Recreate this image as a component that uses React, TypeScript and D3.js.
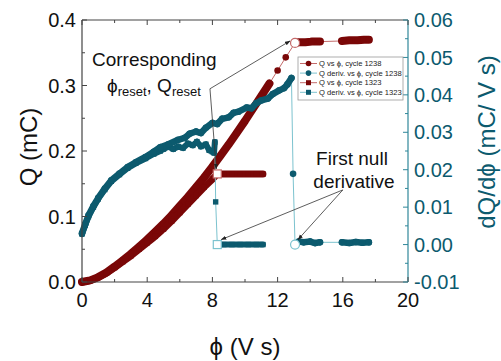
import React from "react";
import * as d3 from "d3";

// ---- data ----
const phiTicks = [0, 4, 8, 12, 16, 20];
const qTicks = [0, 0.1, 0.2, 0.3, 0.4];
const dTicks = [-0.01, 0, 0.01, 0.02, 0.03, 0.04, 0.05, 0.06];

// Q vs phi, cycle 1238
const q1238: [number, number][] = [
  [0, 0], [0.5, 0.0025], [1, 0.0075], [1.5, 0.0145], [2, 0.0235], [2.5, 0.033],
  [3, 0.043], [3.5, 0.054], [4, 0.065], [4.5, 0.077], [5, 0.089], [5.5, 0.102],
  [6, 0.116], [6.5, 0.13], [7, 0.145], [7.5, 0.16], [8, 0.176], [8.5, 0.193],
  [9, 0.21], [9.5, 0.228], [10, 0.246], [10.5, 0.265], [11, 0.284], [11.5, 0.303],
  [12, 0.323], [12.5, 0.343], [13.07, 0.365],
  [13.3, 0.366], [13.7, 0.366], [14.1, 0.367], [14.6, 0.367],
  [15.95, 0.368], [16.4, 0.369], [16.9, 0.369], [17.3, 0.37], [17.6, 0.37],
];
// dQ/dphi, cycle 1238
const d1238: [number, number][] = [
  [0, 0.003], [0.2, 0.0055], [0.4, 0.0078], [0.7, 0.0103], [1, 0.0125], [1.4, 0.015],
  [1.8, 0.0172], [2.3, 0.019], [2.8, 0.0207], [3.3, 0.022], [3.9, 0.0234], [4.4, 0.0248],
  [4.8, 0.026], [5.3, 0.0268], [5.9, 0.028], [6.3, 0.0285], [6.6, 0.0296], [7.0, 0.0302],
  [7.3, 0.0298], [7.6, 0.0312], [8.0, 0.0325], [8.3, 0.0322], [8.6, 0.0336], [9.0, 0.034],
  [9.3, 0.0352], [9.6, 0.0355], [10.1, 0.0366], [10.4, 0.0364], [10.7, 0.0378], [11.0, 0.0385],
  [11.4, 0.039], [11.7, 0.0402], [12.1, 0.0412], [12.4, 0.0418], [12.6, 0.0428],
  [12.85, 0.0445], [12.95, 0.0189], [13.07, 0.0],
  [13.3, 0.0008], [13.6, 0.0006], [14.0, 0.0008], [14.3, 0.0004], [14.6, 0.0006],
  [15.95, 0.0006], [16.4, 0.0004], [16.8, 0.0007], [17.2, 0.0005], [17.6, 0.0006],
];
// Q vs phi, cycle 1323
const q1323: [number, number][] = [
  [0, 0], [0.5, 0.0022], [1, 0.007], [1.5, 0.0135], [2, 0.022], [2.5, 0.031],
  [3, 0.04], [3.5, 0.05], [4, 0.06], [4.5, 0.07], [5, 0.081], [5.5, 0.093],
  [6, 0.106], [6.5, 0.119], [7, 0.132], [7.5, 0.145], [8, 0.157], [8.3, 0.165],
  [8.7, 0.165], [9.2, 0.165], [9.7, 0.165], [10.2, 0.165], [10.7, 0.165], [11.1, 0.165],
];
// dQ/dphi, cycle 1323
const d1323: [number, number][] = [
  [0, 0.0028], [0.2, 0.0052], [0.4, 0.0075], [0.7, 0.01], [1, 0.0122], [1.4, 0.0147],
  [1.8, 0.0169], [2.3, 0.0187], [2.8, 0.0204], [3.3, 0.0217], [3.9, 0.023], [4.4, 0.0242],
  [4.8, 0.025], [5.0, 0.0255], [5.3, 0.0262], [5.6, 0.0255], [5.9, 0.0262], [6.2, 0.0258],
  [6.5, 0.027], [6.8, 0.0265], [7.05, 0.0275], [7.3, 0.0262], [7.6, 0.0268], [7.8, 0.0252],
  [8.0, 0.0248], [8.1, 0.0245], [8.15, 0.0274], [8.2, 0.0114], [8.3, 0.0],
  [8.7, 0.0], [9.2, 0.0], [9.7, 0.0], [10.2, 0.0], [10.7, 0.0], [11.1, 0.0],
];
// reset points (open markers)
const resetQ1238: [number, number] = [13.07, 0.365];
const resetD1238: [number, number] = [13.07, 0.0];
const resetQ1323: [number, number] = [8.3, 0.165];
const resetD1323: [number, number] = [8.3, 0.0];

const legendLabels = [
  "Q vs ϕ, cycle 1238",
  "Q deriv. vs ϕ, cycle 1238",
  "Q vs ϕ, cycle 1323",
  "Q deriv. vs ϕ, cycle 1323",
];

// ---- styles ----
const RED = "#7a0707";
const RED_LIGHT = "#c46a6a";
const TEAL = "#0c5a6e";
const TEAL_LIGHT = "#7cc3cf";
const TEAL_AXIS = "#2f8799";
const AXIS = "#444";
const FONT = "Liberation Sans, Arial, sans-serif";

const W = 501, H = 361;
const x = d3.scaleLinear().domain([0, 20]).range([82, 408]);
const yQ = d3.scaleLinear().domain([0, 0.4]).range([282, 20]);
const yD = d3.scaleLinear().domain([-0.01, 0.06]).range([282, 20]);

type Pt = [number, number];

function Series({ data, y, color, light, shape, band }: {
  data: Pt[]; y: d3.ScaleLinear<number, number>; color: string; light: string; shape: "circle" | "square"; band: number;
}) {
  const px = data.map(([a, b]) => [x(a), y(b)] as [number, number]);
  const thin = d3.line()(px) || "";
  const thick: string[] = [];
  for (let i = 1; i < px.length; i++) {
    const dx = px[i][0] - px[i - 1][0], dy = px[i][1] - px[i - 1][1];
    if (Math.hypot(dx, dy) < 15) thick.push(`M${px[i - 1][0]},${px[i - 1][1]}L${px[i][0]},${px[i][1]}`);
  }
  return (
    <g>
      <path d={thin} fill="none" stroke={light} strokeWidth={1} />
      <path d={thick.join("")} fill="none" stroke={color} strokeWidth={band} strokeLinecap="round" strokeLinejoin="round" />
      {px.map(([a, b], i) =>
        shape === "circle" ? (
          <circle key={i} cx={a} cy={b} r={3.3} fill={color} />
        ) : (
          <rect key={i} x={a - 2.7} y={b - 2.7} width={5.4} height={5.4} fill={color} />
        )
      )}
    </g>
  );
}

export default function App() {
  const minorPhi = d3.range(0, 20.001, 2).filter((v) => !phiTicks.includes(v));
  const minorQ = d3.range(0.05, 0.4, 0.1);
  const minorD = d3.range(-0.005, 0.06, 0.01);

  const legX = 298, legY = 57, legW = 105, legH = 43;
  const legRows = [
    { c: RED, l: RED_LIGHT, s: "circle" },
    { c: TEAL, l: TEAL_LIGHT, s: "circle" },
    { c: RED, l: RED_LIGHT, s: "square" },
    { c: TEAL, l: TEAL_LIGHT, s: "square" },
  ];

  // annotation anchors in data space
  const a1: Pt = [x(7.85), yQ(0.295)];
  const a2: Pt = [x(16.0), yD(0.0146)];

  return (
    <svg width={W} height={H} style={{ position: "absolute", left: 0, top: 0, background: "#fff" }} fontFamily={FONT}>
      <defs>
        <marker id="arr" viewBox="0 0 10 10" refX={9} refY={5} markerWidth={7} markerHeight={7} orient="auto-start-reverse">
          <path d="M0,1.5 L10,5 L0,8.5 z" fill="#222" />
        </marker>
      </defs>
      <rect width={W} height={H} fill="#fff" />

      {/* series */}
      <Series data={q1238} y={yQ} color={RED} light={RED_LIGHT} shape="circle" band={8} />
      <Series data={q1323} y={yQ} color={RED} light={RED_LIGHT} shape="square" band={7} />
      <Series data={d1323} y={yD} color={TEAL} light={TEAL_LIGHT} shape="square" band={6} />
      <Series data={d1238} y={yD} color={TEAL} light={TEAL_LIGHT} shape="circle" band={6.5} />

      {/* reset markers */}
      <circle cx={x(resetQ1238[0])} cy={yQ(resetQ1238[1])} r={4.5} fill="#fff" stroke={RED_LIGHT} strokeWidth={1.2} />
      <circle cx={x(resetD1238[0])} cy={yD(resetD1238[1])} r={4.5} fill="#fff" stroke={TEAL_LIGHT} strokeWidth={1.2} />
      <rect x={x(resetQ1323[0]) - 4} y={yQ(resetQ1323[1]) - 4} width={8} height={8} fill="#fff" stroke={RED_LIGHT} strokeWidth={1.2} />
      <rect x={x(resetD1323[0]) - 4} y={yD(resetD1323[1]) - 4} width={8} height={8} fill="#fff" stroke={TEAL_LIGHT} strokeWidth={1.2} />

      {/* frame & ticks */}
      <line x1={82} x2={408} y1={282} y2={282} stroke={AXIS} strokeWidth={1.2} />
      <line x1={82} x2={408} y1={20} y2={20} stroke={AXIS} strokeWidth={1.2} />
      <line x1={82} x2={82} y1={20} y2={282} stroke={AXIS} strokeWidth={1.2} />
      <line x1={408} x2={408} y1={20} y2={282} stroke={TEAL_AXIS} strokeWidth={1.2} />
      {phiTicks.map((v) => (
        <g key={"xt" + v}>
          <line x1={x(v)} x2={x(v)} y1={282} y2={277} stroke={AXIS} />
          <line x1={x(v)} x2={x(v)} y1={20} y2={25} stroke={AXIS} />
          <text x={x(v)} y={307} textAnchor="middle" fontSize={20} fill="#111">{v}</text>
        </g>
      ))}
      {minorPhi.map((v) => (
        <g key={"xm" + v}>
          <line x1={x(v)} x2={x(v)} y1={282} y2={279} stroke={AXIS} />
          <line x1={x(v)} x2={x(v)} y1={20} y2={23} stroke={AXIS} />
        </g>
      ))}
      {qTicks.map((v) => (
        <g key={"qt" + v}>
          <line x1={82} x2={87} y1={yQ(v)} y2={yQ(v)} stroke={AXIS} />
          <text x={76} y={yQ(v)} dy="0.36em" textAnchor="end" fontSize={20} fill="#111">{v.toFixed(1)}</text>
        </g>
      ))}
      {minorQ.map((v) => (
        <line key={"qm" + v} x1={82} x2={85} y1={yQ(v)} y2={yQ(v)} stroke={AXIS} />
      ))}
      {dTicks.map((v) => (
        <g key={"dt" + v}>
          <line x1={408} x2={403} y1={yD(v)} y2={yD(v)} stroke={TEAL_AXIS} />
          <text x={414} y={yD(v)} dy="0.36em" textAnchor="start" fontSize={20} fill={TEAL}>{v.toFixed(2)}</text>
        </g>
      ))}
      {minorD.map((v) => (
        <line key={"dm" + v} x1={408} x2={405} y1={yD(v)} y2={yD(v)} stroke={TEAL_AXIS} />
      ))}

      {/* axis titles */}
      <text x={245} y={355} textAnchor="middle" fontSize={24} fill="#111">ϕ (V s)</text>
      <text transform="translate(37,147) rotate(-90)" textAnchor="middle" fontSize={24} fill="#111">Q (mC)</text>
      <text transform="translate(495,142) rotate(-90)" textAnchor="middle" fontSize={24} fill={TEAL}>dQ/dϕ (mC/ V s)</text>

      {/* legend */}
      <rect x={legX} y={legY} width={legW} height={legH} fill="#fff" stroke="#999" strokeWidth={0.8} />
      {legRows.map((r, i) => {
        const cy = legY + 6.5 + i * 9.6;
        return (
          <g key={"lg" + i}>
            <line x1={legX + 2} x2={legX + 19} y1={cy} y2={cy} stroke={r.l} strokeWidth={1} />
            {r.s === "circle" ? (
              <circle cx={legX + 10.5} cy={cy} r={2.8} fill={r.c} />
            ) : (
              <rect x={legX + 8} y={cy - 2.5} width={5} height={5} fill={r.c} />
            )}
            <text x={legX + 21} y={cy} dy="0.35em" fontSize={7.6} fill="#222">{legendLabels[i]}</text>
          </g>
        );
      })}

      {/* annotations */}
      <text x={92} y={66} fontSize={19} fill="#111">Corresponding</text>
      <text x={107} y={92} fontSize={19} fill="#111">
        ϕ<tspan fontSize={13} dy={4}>reset</tspan>
        <tspan dy={-4}>, Q</tspan>
        <tspan fontSize={13} dy={4}>reset</tspan>
      </text>
      <line x1={a1[0]} y1={a1[1]} x2={x(resetQ1238[0]) - 5} y2={yQ(resetQ1238[1]) - 2} stroke="#333" strokeWidth={0.8} markerEnd="url(#arr)" />
      <line x1={a1[0]} y1={a1[1]} x2={x(resetQ1323[0]) - 1} y2={yQ(resetQ1323[1]) - 5} stroke="#333" strokeWidth={0.8} markerEnd="url(#arr)" />

      <text x={352} y={165} textAnchor="middle" fontSize={19} fill="#111">First null</text>
      <text x={354} y={188} textAnchor="middle" fontSize={19} fill="#111">derivative</text>
      <line x1={a2[0]} y1={a2[1]} x2={x(resetD1323[0]) + 4} y2={yD(resetD1323[1]) - 5} stroke="#333" strokeWidth={0.8} markerEnd="url(#arr)" />
      <line x1={a2[0]} y1={a2[1]} x2={x(resetD1238[0]) + 3} y2={yD(resetD1238[1]) - 5} stroke="#333" strokeWidth={0.8} markerEnd="url(#arr)" />
    </svg>
  );
}
